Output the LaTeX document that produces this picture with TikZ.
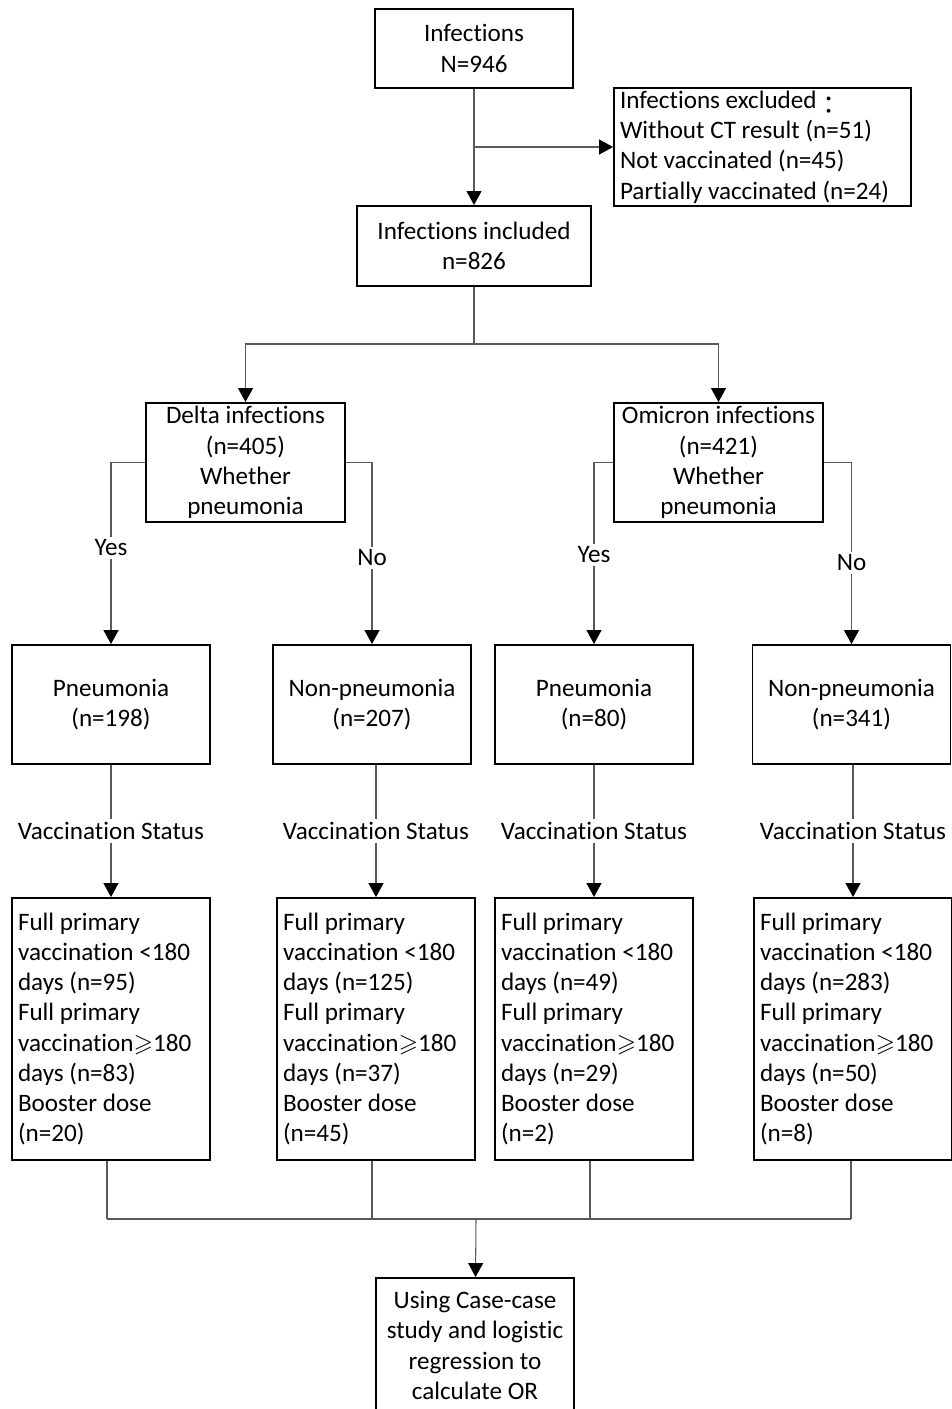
\documentclass[tikz,border=0pt]{standalone}
\usepackage{amsmath,amssymb}
\usepackage{fontspec}
\setmainfont{Carlito}[Ligatures=NoCommon]
\newfontfamily\cjk{Noto Sans CJK TC}
\usetikzlibrary{arrows.meta,positioning,calc}
\definecolor{FlowLine}{HTML}{5A5A5A}

\begin{document}
\begin{tikzpicture}[x=0.02cm,y=-0.02cm,
    every node/.style={font=\fontsize{14.3}{17.2}\selectfont},
    box/.style={draw,line width=1.1pt,align=center,inner sep=0pt,
      minimum width=3.96cm,minimum height=2.38cm},
    listbox/.style={box,align=flush left,text width=3.72cm,minimum height=5.24cm},
    link/.style={FlowLine,line width=0.6pt},
    arrow/.style={link,-{Triangle[width=0.3cm,length=0.28cm,black]}},
    tag/.style={inner sep=1.5pt}]
  \useasboundingbox (0,0) rectangle (951,1409);
  % screening
  \node[box,minimum height=1.58cm] (infect) at (474,48.5) {Infections\\N=946};
  \node[box,align=flush left,text width=5.70cm,minimum width=5.94cm,minimum height=2.36cm] (excl) at (762.5,147)
    {Infections excluded\raisebox{-0.25em}{\cjk ：}\\Without CT result (n=51)\\Not vaccinated (n=45)\\Partially vaccinated (n=24)};
  \node[box,minimum width=4.68cm,minimum height=1.6cm] (incl) at (474,246) {Infections included\\n=826};
  \draw[arrow] (infect) -- (incl);
  \draw[arrow] (infect.south |- excl.west) -- (excl.west);
  % variants
  \node[box,minimum width=3.98cm] (delta) at (245.5,462.5) {Delta infections\\(n=405)\\Whether\\pneumonia};
  \node[box,minimum width=4.18cm] (omicron) at (718.5,462.5) {Omicron infections\\(n=421)\\Whether\\pneumonia};
  \coordinate (split) at (474,344);
  \draw[link] (incl) -- (split);
  \draw[arrow] (split) -| (delta);
  \draw[arrow] (split) -| (omicron);
  % pneumonia or not
  \node[box] (pnA) at (111,704.5) {Pneumonia\\(n=198)};
  \node[box] (pnB) at (372,704.5) {Non-pneumonia\\(n=207)};
  \node[box] (pnC) at (594,704.5) {Pneumonia\\(n=80)};
  \node[box] (pnD) at (851.5,704.5) {Non-pneumonia\\(n=341)};
  \node[tag] (yesA) at (111,548) {Yes};
  \node[tag] (noA) at (372,558) {No};
  \node[tag] (yesB) at (594,555) {Yes};
  \node[tag] (noB) at (851.5,563) {No};
  \draw[link] (delta.west) -| (yesA);
  \draw[arrow] (yesA) -- (pnA);
  \draw[link] (delta.east) -| (noA);
  \draw[arrow] (noA) -- (pnB);
  \draw[link] (omicron.west) -| (yesB);
  \draw[arrow] (yesB) -- (pnC);
  \draw[link] (omicron.east) -| (noB);
  \draw[arrow] (noB) -- (pnD);
  % vaccination status
  \node[listbox] (vbA) at (111,1029) {Full primary\\vaccination <180\\days (n=95)\\Full primary\\vaccination$\geqslant$180\\days (n=83)\\Booster dose\\(n=20)};
  \node[listbox] (vbB) at (376,1029) {Full primary\\vaccination <180\\days (n=125)\\Full primary\\vaccination$\geqslant$180\\days (n=37)\\Booster dose\\(n=45)};
  \node[listbox] (vbC) at (594,1029) {Full primary\\vaccination <180\\days (n=49)\\Full primary\\vaccination$\geqslant$180\\days (n=29)\\Booster dose\\(n=2)};
  \node[listbox] (vbD) at (853,1029) {Full primary\\vaccination <180\\days (n=283)\\Full primary\\vaccination$\geqslant$180\\days (n=50)\\Booster dose\\(n=8)};
  \foreach \p/\v/\x in {A/A/111,B/B/376,C/C/594,D/D/853}{
    \node[tag] (vs\v) at (\x,831) {Vaccination Status};
    \draw[link] (vs\v |- pn\p.south) -- (vs\v);
    \draw[arrow] (vs\v) -- (vb\v);}
  % analysis
  \node[box,minimum height=2.7cm] (final) at (475,1345.5) {Using Case-case\\study and logistic\\regression to\\calculate OR};
  \coordinate (mA) at (107,1219);
  \coordinate (mB) at (372,1219);
  \coordinate (mC) at (590,1219);
  \coordinate (mD) at (851,1219);
  \coordinate (merge) at (476,1219);
  \foreach \v in {A,B,C,D}{
    \draw[link] (m\v |- vb\v.south) -- (m\v);}
  \draw[link] (mA) -- (mD);
  \draw[arrow] (merge) -- (final);
\end{tikzpicture}
\end{document}
